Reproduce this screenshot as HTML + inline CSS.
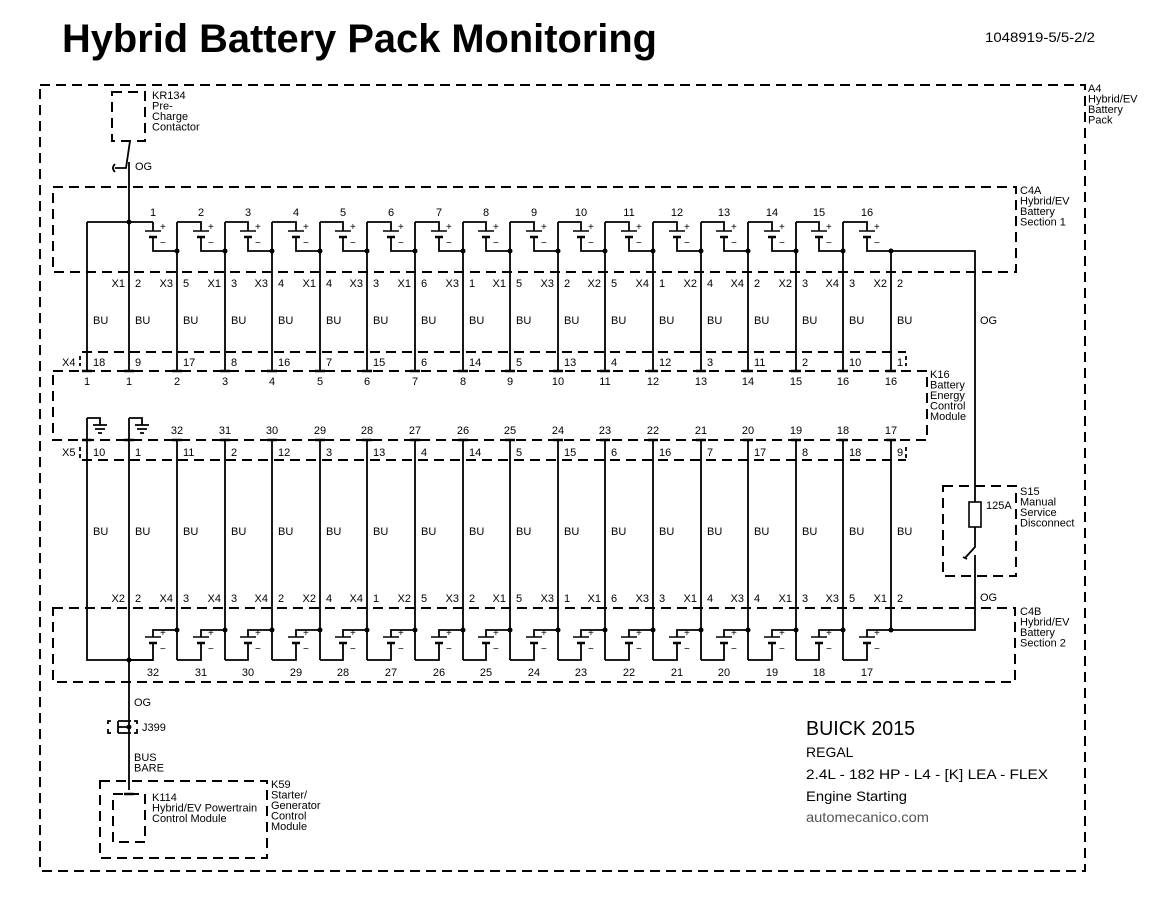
<!DOCTYPE html>
<html><head><meta charset="utf-8"><style>
html,body{margin:0;padding:0;background:#fff}
svg{display:block}
text{font-family:"Liberation Sans",Arial,sans-serif;fill:#000}
.s{font-size:11px}
.c{text-anchor:middle}
.e{text-anchor:end}
.d{fill:none;stroke:#000;stroke-width:2;stroke-dasharray:10 6}
.w{fill:none;stroke:#000;stroke-width:1.8}
.p{fill:none;stroke:#000;stroke-width:2.4}
.g{fill:#555}
</style></head><body>
<svg width="1160" height="910" viewBox="0 0 1160 910" xmlns="http://www.w3.org/2000/svg">
<text x="62" y="52" font-size="40" font-weight="bold" textLength="595" lengthAdjust="spacingAndGlyphs">Hybrid Battery Pack Monitoring</text>
<text x="985" y="42" font-size="14" textLength="110" lengthAdjust="spacingAndGlyphs">1048919-5/5-2/2</text>

<rect class="d" x="40" y="85" width="1045" height="786"/>
<rect class="d" x="53" y="187" width="963" height="85"/>
<rect class="d" x="53" y="371" width="874" height="69"/>
<rect class="d" x="53" y="608" width="962" height="74"/>
<rect class="d" x="943" y="486" width="73" height="90"/>
<rect class="d" x="112" y="92" width="33" height="49"/>
<rect class="d" x="100" y="781" width="167" height="77"/>
<rect class="d" x="113" y="794" width="32" height="48"/>
<path class="d" d="M82,352 H906 M82,460 H906"/>
<path class="w" d="M80,356 V360 M80,363 V366 M906,356 V360 M906,363 V366 M80,447 V451 M80,454 V458 M906,447 V451 M906,454 V458"/>

<g font-size="11">
<text x="1088" y="92">A4</text><text x="1088" y="102.5">Hybrid/EV</text><text x="1088" y="113">Battery</text><text x="1088" y="123.5">Pack</text>
<text x="1020" y="194">C4A</text><text x="1020" y="204.5">Hybrid/EV</text><text x="1020" y="215">Battery</text><text x="1020" y="225.5">Section 1</text>
<text x="930" y="378">K16</text><text x="930" y="388.5">Battery</text><text x="930" y="399">Energy</text><text x="930" y="409.5">Control</text><text x="930" y="420">Module</text>
<text x="1020" y="495">S15</text><text x="1020" y="505.5">Manual</text><text x="1020" y="516">Service</text><text x="1020" y="526.5">Disconnect</text>
<text x="1020" y="615">C4B</text><text x="1020" y="625.5">Hybrid/EV</text><text x="1020" y="636">Battery</text><text x="1020" y="646.5">Section 2</text>
<text x="152" y="99">KR134</text><text x="152" y="109.5">Pre-</text><text x="152" y="120">Charge</text><text x="152" y="130.5">Contactor</text>
<text x="152" y="801">K114</text><text x="152" y="811.5">Hybrid/EV Powertrain</text><text x="152" y="822">Control Module</text>
<text x="271" y="788">K59</text><text x="271" y="798.5">Starter/</text><text x="271" y="809">Generator</text><text x="271" y="819.5">Control</text><text x="271" y="830">Module</text>
<text x="142" y="731">J399</text>
<text x="134" y="761">BUS</text><text x="134" y="771.5">BARE</text>
<text x="134" y="706">OG</text>
<text x="135" y="170">OG</text>
<text x="980" y="324">OG</text>
<text x="980" y="601">OG</text>
<text x="986" y="509">125A</text>
<text x="62" y="366">X4</text>
<text x="62" y="456">X5</text>
</g>

<path class="w" d="M130,141 L126,168 H115 M115,164 Q111,168 115,172 M129,162 V371"/>

<path class="w" d="M87,222 H153 M87,222 V371 M87,418 V660 H153 M129,418 V790"/>
<path class="w" d="M87,418 H100 V425 M93,425 H107 M95,429 H105 M98,433 H102 M129,418 H142 V425 M135,425 H149 M137,429 H147 M140,433 H144"/>
<path class="p" d="M82,371 H92 M124,371 H134 M82,440 H92 M124,440 H134 M124,794 H134"/>
<path class="w" d="M108,724 V721 H111 M108,729 V733 H111 M134,721 H137 V724 M134,733 H137 V729 M118,721 H131 M118,727 H129 M118,733 H131 M118,721 V733"/>
<circle cx="129" cy="727" r="2.5"/>

<path class="w" d="M891,251 H975 V502 M975,527 V547 L965,558 M963,557 L967,559 M975,555 V630 H891"/>
<rect x="969" y="502" width="12" height="25" fill="none" stroke="#000" stroke-width="1.6"/>

<path class="w" d="M177,222 V371 M225,222 V371 M272,222 V371 M320,222 V371 M367,222 V371 M415,222 V371 M463,222 V371 M510,222 V371 M558,222 V371 M605,222 V371 M653,222 V371 M701,222 V371 M748,222 V371 M796,222 V371 M843,222 V371 M891,251 V371
M177,440 V660 M225,440 V660 M272,440 V660 M320,440 V660 M367,440 V660 M415,440 V660 M463,440 V660 M510,440 V660 M558,440 V660 M605,440 V660 M653,440 V660 M701,440 V660 M748,440 V660 M796,440 V660 M843,440 V660 M891,440 V630"/>
<path class="p" d="M172,371 H182 M220,371 H230 M267,371 H277 M315,371 H325 M362,371 H372 M410,371 H420 M458,371 H468 M505,371 H515 M553,371 H563 M600,371 H610 M648,371 H658 M696,371 H706 M743,371 H753 M791,371 H801 M838,371 H848 M886,371 H896
M172,440 H182 M220,440 H230 M267,440 H277 M315,440 H325 M362,440 H372 M410,440 H420 M458,440 H468 M505,440 H515 M553,440 H563 M600,440 H610 M648,440 H658 M696,440 H706 M743,440 H753 M791,440 H801 M838,440 H848 M886,440 H896"/>

<path class="w" d="
M153,222 V231 M153,237 V251 H177
M177,222 H201 V231 M201,237 V251 H225
M225,222 H248 V231 M248,237 V251 H272
M272,222 H296 V231 M296,237 V251 H320
M320,222 H343 V231 M343,237 V251 H367
M367,222 H391 V231 M391,237 V251 H415
M415,222 H439 V231 M439,237 V251 H463
M463,222 H486 V231 M486,237 V251 H510
M510,222 H534 V231 M534,237 V251 H558
M558,222 H581 V231 M581,237 V251 H605
M605,222 H629 V231 M629,237 V251 H653
M653,222 H677 V231 M677,237 V251 H701
M701,222 H724 V231 M724,237 V251 H748
M748,222 H772 V231 M772,237 V251 H796
M796,222 H819 V231 M819,237 V251 H843
M843,222 H867 V231 M867,237 V251 H891"/>
<g stroke="#000" stroke-width="1.6">
<path d="M145,231H161M193,231H209M240,231H256M288,231H304M335,231H351M383,231H399M431,231H447M478,231H494M526,231H542M573,231H589M621,231H637M669,231H685M716,231H732M764,231H780M811,231H827M859,231H875"/>
<path stroke-width="2.6" d="M149,237H157M197,237H205M244,237H252M292,237H300M339,237H347M387,237H395M435,237H443M482,237H490M530,237H538M577,237H585M625,237H633M673,237H681M720,237H728M768,237H776M815,237H823M863,237H871"/>
</g>

<path class="w" d="
M177,630 H153 V637 M153,643 V660 H129
M225,630 H201 V637 M201,643 V660 H177
M272,630 H248 V637 M248,643 V660 H225
M320,630 H296 V637 M296,643 V660 H272
M367,630 H343 V637 M343,643 V660 H320
M415,630 H391 V637 M391,643 V660 H367
M463,630 H439 V637 M439,643 V660 H415
M510,630 H486 V637 M486,643 V660 H463
M558,630 H534 V637 M534,643 V660 H510
M605,630 H581 V637 M581,643 V660 H558
M653,630 H629 V637 M629,643 V660 H605
M701,630 H677 V637 M677,643 V660 H653
M748,630 H724 V637 M724,643 V660 H701
M796,630 H772 V637 M772,643 V660 H748
M843,630 H819 V637 M819,643 V660 H796
M891,630 H867 V637 M867,643 V660 H843"/>
<g stroke="#000" stroke-width="1.6">
<path d="M145,637H161M193,637H209M240,637H256M288,637H304M335,637H351M383,637H399M431,637H447M478,637H494M526,637H542M573,637H589M621,637H637M669,637H685M716,637H732M764,637H780M811,637H827M859,637H875"/>
<path stroke-width="2.6" d="M149,643H157M197,643H205M244,643H252M292,643H300M339,643H347M387,643H395M435,643H443M482,643H490M530,643H538M577,643H585M625,643H633M673,643H681M720,643H728M768,643H776M815,643H823M863,643H871"/>
</g>

<g>
<circle cx="129" cy="222" r="2.5"/><circle cx="129" cy="660" r="2.5"/>
<circle cx="177" cy="251" r="2.5"/><circle cx="225" cy="251" r="2.5"/><circle cx="272" cy="251" r="2.5"/><circle cx="320" cy="251" r="2.5"/><circle cx="367" cy="251" r="2.5"/><circle cx="415" cy="251" r="2.5"/><circle cx="463" cy="251" r="2.5"/><circle cx="510" cy="251" r="2.5"/><circle cx="558" cy="251" r="2.5"/><circle cx="605" cy="251" r="2.5"/><circle cx="653" cy="251" r="2.5"/><circle cx="701" cy="251" r="2.5"/><circle cx="748" cy="251" r="2.5"/><circle cx="796" cy="251" r="2.5"/><circle cx="843" cy="251" r="2.5"/><circle cx="891" cy="251" r="2.5"/>
<circle cx="177" cy="630" r="2.5"/><circle cx="225" cy="630" r="2.5"/><circle cx="272" cy="630" r="2.5"/><circle cx="320" cy="630" r="2.5"/><circle cx="367" cy="630" r="2.5"/><circle cx="415" cy="630" r="2.5"/><circle cx="463" cy="630" r="2.5"/><circle cx="510" cy="630" r="2.5"/><circle cx="558" cy="630" r="2.5"/><circle cx="605" cy="630" r="2.5"/><circle cx="653" cy="630" r="2.5"/><circle cx="701" cy="630" r="2.5"/><circle cx="748" cy="630" r="2.5"/><circle cx="796" cy="630" r="2.5"/><circle cx="843" cy="630" r="2.5"/><circle cx="891" cy="630" r="2.5"/>
</g>

<g font-size="10">
<text x="160" y="230">+</text><text x="208" y="230">+</text><text x="255" y="230">+</text><text x="303" y="230">+</text><text x="350" y="230">+</text><text x="398" y="230">+</text><text x="446" y="230">+</text><text x="493" y="230">+</text><text x="541" y="230">+</text><text x="588" y="230">+</text><text x="636" y="230">+</text><text x="684" y="230">+</text><text x="731" y="230">+</text><text x="779" y="230">+</text><text x="826" y="230">+</text><text x="874" y="230">+</text>
<text x="160" y="246">−</text><text x="208" y="246">−</text><text x="255" y="246">−</text><text x="303" y="246">−</text><text x="350" y="246">−</text><text x="398" y="246">−</text><text x="446" y="246">−</text><text x="493" y="246">−</text><text x="541" y="246">−</text><text x="588" y="246">−</text><text x="636" y="246">−</text><text x="684" y="246">−</text><text x="731" y="246">−</text><text x="779" y="246">−</text><text x="826" y="246">−</text><text x="874" y="246">−</text>
<text x="160" y="636">+</text><text x="208" y="636">+</text><text x="255" y="636">+</text><text x="303" y="636">+</text><text x="350" y="636">+</text><text x="398" y="636">+</text><text x="446" y="636">+</text><text x="493" y="636">+</text><text x="541" y="636">+</text><text x="588" y="636">+</text><text x="636" y="636">+</text><text x="684" y="636">+</text><text x="731" y="636">+</text><text x="779" y="636">+</text><text x="826" y="636">+</text><text x="874" y="636">+</text>
<text x="160" y="652">−</text><text x="208" y="652">−</text><text x="255" y="652">−</text><text x="303" y="652">−</text><text x="350" y="652">−</text><text x="398" y="652">−</text><text x="446" y="652">−</text><text x="493" y="652">−</text><text x="541" y="652">−</text><text x="588" y="652">−</text><text x="636" y="652">−</text><text x="684" y="652">−</text><text x="731" y="652">−</text><text x="779" y="652">−</text><text x="826" y="652">−</text><text x="874" y="652">−</text>
</g>

<g class="c" font-size="11">
<text x="153" y="216">1</text><text x="201" y="216">2</text><text x="248" y="216">3</text><text x="296" y="216">4</text><text x="343" y="216">5</text><text x="391" y="216">6</text><text x="439" y="216">7</text><text x="486" y="216">8</text><text x="534" y="216">9</text><text x="581" y="216">10</text><text x="629" y="216">11</text><text x="677" y="216">12</text><text x="724" y="216">13</text><text x="772" y="216">14</text><text x="819" y="216">15</text><text x="867" y="216">16</text>
<text x="153" y="676">32</text><text x="201" y="676">31</text><text x="248" y="676">30</text><text x="296" y="676">29</text><text x="343" y="676">28</text><text x="391" y="676">27</text><text x="439" y="676">26</text><text x="486" y="676">25</text><text x="534" y="676">24</text><text x="581" y="676">23</text><text x="629" y="676">22</text><text x="677" y="676">21</text><text x="724" y="676">20</text><text x="772" y="676">19</text><text x="819" y="676">18</text><text x="867" y="676">17</text>
<text x="87" y="385">1</text><text x="129" y="385">1</text><text x="177" y="385">2</text><text x="225" y="385">3</text><text x="272" y="385">4</text><text x="320" y="385">5</text><text x="367" y="385">6</text><text x="415" y="385">7</text><text x="463" y="385">8</text><text x="510" y="385">9</text><text x="558" y="385">10</text><text x="605" y="385">11</text><text x="653" y="385">12</text><text x="701" y="385">13</text><text x="748" y="385">14</text><text x="796" y="385">15</text><text x="843" y="385">16</text><text x="891" y="385">16</text>
<text x="177" y="434">32</text><text x="225" y="434">31</text><text x="272" y="434">30</text><text x="320" y="434">29</text><text x="367" y="434">28</text><text x="415" y="434">27</text><text x="463" y="434">26</text><text x="510" y="434">25</text><text x="558" y="434">24</text><text x="605" y="434">23</text><text x="653" y="434">22</text><text x="701" y="434">21</text><text x="748" y="434">20</text><text x="796" y="434">19</text><text x="843" y="434">18</text><text x="891" y="434">17</text>
</g>

<g font-size="11">
<text x="93" y="366">18</text><text x="135" y="366">9</text><text x="183" y="366">17</text><text x="231" y="366">8</text><text x="278" y="366">16</text><text x="326" y="366">7</text><text x="373" y="366">15</text><text x="421" y="366">6</text><text x="469" y="366">14</text><text x="516" y="366">5</text><text x="564" y="366">13</text><text x="611" y="366">4</text><text x="659" y="366">12</text><text x="707" y="366">3</text><text x="754" y="366">11</text><text x="802" y="366">2</text><text x="849" y="366">10</text><text x="897" y="366">1</text>
<text x="93" y="456">10</text><text x="135" y="456">1</text><text x="183" y="456">11</text><text x="231" y="456">2</text><text x="278" y="456">12</text><text x="326" y="456">3</text><text x="373" y="456">13</text><text x="421" y="456">4</text><text x="469" y="456">14</text><text x="516" y="456">5</text><text x="564" y="456">15</text><text x="611" y="456">6</text><text x="659" y="456">16</text><text x="707" y="456">7</text><text x="754" y="456">17</text><text x="802" y="456">8</text><text x="849" y="456">18</text><text x="897" y="456">9</text>
<text x="93" y="324">BU</text><text x="135" y="324">BU</text><text x="183" y="324">BU</text><text x="231" y="324">BU</text><text x="278" y="324">BU</text><text x="326" y="324">BU</text><text x="373" y="324">BU</text><text x="421" y="324">BU</text><text x="469" y="324">BU</text><text x="516" y="324">BU</text><text x="564" y="324">BU</text><text x="611" y="324">BU</text><text x="659" y="324">BU</text><text x="707" y="324">BU</text><text x="754" y="324">BU</text><text x="802" y="324">BU</text><text x="849" y="324">BU</text><text x="897" y="324">BU</text>
<text x="93" y="535">BU</text><text x="135" y="535">BU</text><text x="183" y="535">BU</text><text x="231" y="535">BU</text><text x="278" y="535">BU</text><text x="326" y="535">BU</text><text x="373" y="535">BU</text><text x="421" y="535">BU</text><text x="469" y="535">BU</text><text x="516" y="535">BU</text><text x="564" y="535">BU</text><text x="611" y="535">BU</text><text x="659" y="535">BU</text><text x="707" y="535">BU</text><text x="754" y="535">BU</text><text x="802" y="535">BU</text><text x="849" y="535">BU</text><text x="897" y="535">BU</text>
<text x="135" y="287">2</text><text x="183" y="287">5</text><text x="231" y="287">3</text><text x="278" y="287">4</text><text x="326" y="287">4</text><text x="373" y="287">3</text><text x="421" y="287">6</text><text x="469" y="287">1</text><text x="516" y="287">5</text><text x="564" y="287">2</text><text x="611" y="287">5</text><text x="659" y="287">1</text><text x="707" y="287">4</text><text x="754" y="287">2</text><text x="802" y="287">3</text><text x="849" y="287">3</text><text x="897" y="287">2</text>
<text x="135" y="602">2</text><text x="183" y="602">3</text><text x="231" y="602">3</text><text x="278" y="602">2</text><text x="326" y="602">4</text><text x="373" y="602">1</text><text x="421" y="602">5</text><text x="469" y="602">2</text><text x="516" y="602">5</text><text x="564" y="602">1</text><text x="611" y="602">6</text><text x="659" y="602">3</text><text x="707" y="602">4</text><text x="754" y="602">4</text><text x="802" y="602">3</text><text x="849" y="602">5</text><text x="897" y="602">2</text>
</g>
<g font-size="11" class="e">
<text x="125" y="287">X1</text><text x="173" y="287">X3</text><text x="221" y="287">X1</text><text x="268" y="287">X3</text><text x="316" y="287">X1</text><text x="363" y="287">X3</text><text x="411" y="287">X1</text><text x="459" y="287">X3</text><text x="506" y="287">X1</text><text x="554" y="287">X3</text><text x="601" y="287">X2</text><text x="649" y="287">X4</text><text x="697" y="287">X2</text><text x="744" y="287">X4</text><text x="792" y="287">X2</text><text x="839" y="287">X4</text><text x="887" y="287">X2</text>
<text x="125" y="602">X2</text><text x="173" y="602">X4</text><text x="221" y="602">X4</text><text x="268" y="602">X4</text><text x="316" y="602">X2</text><text x="363" y="602">X4</text><text x="411" y="602">X2</text><text x="459" y="602">X3</text><text x="506" y="602">X1</text><text x="554" y="602">X3</text><text x="601" y="602">X1</text><text x="649" y="602">X3</text><text x="697" y="602">X1</text><text x="744" y="602">X3</text><text x="792" y="602">X1</text><text x="839" y="602">X3</text><text x="887" y="602">X1</text>
</g>

<text x="806" y="735" font-size="20" textLength="109" lengthAdjust="spacingAndGlyphs">BUICK 2015</text>
<text x="806" y="757" font-size="14">REGAL</text>
<text x="806" y="779" font-size="14" textLength="242" lengthAdjust="spacingAndGlyphs">2.4L - 182 HP - L4 - [K] LEA - FLEX</text>
<text x="806" y="801" font-size="14" textLength="101" lengthAdjust="spacingAndGlyphs">Engine Starting</text>
<text x="806" y="822" font-size="14" class="g" textLength="123" lengthAdjust="spacingAndGlyphs">automecanico.com</text>
</svg>
</body></html>
